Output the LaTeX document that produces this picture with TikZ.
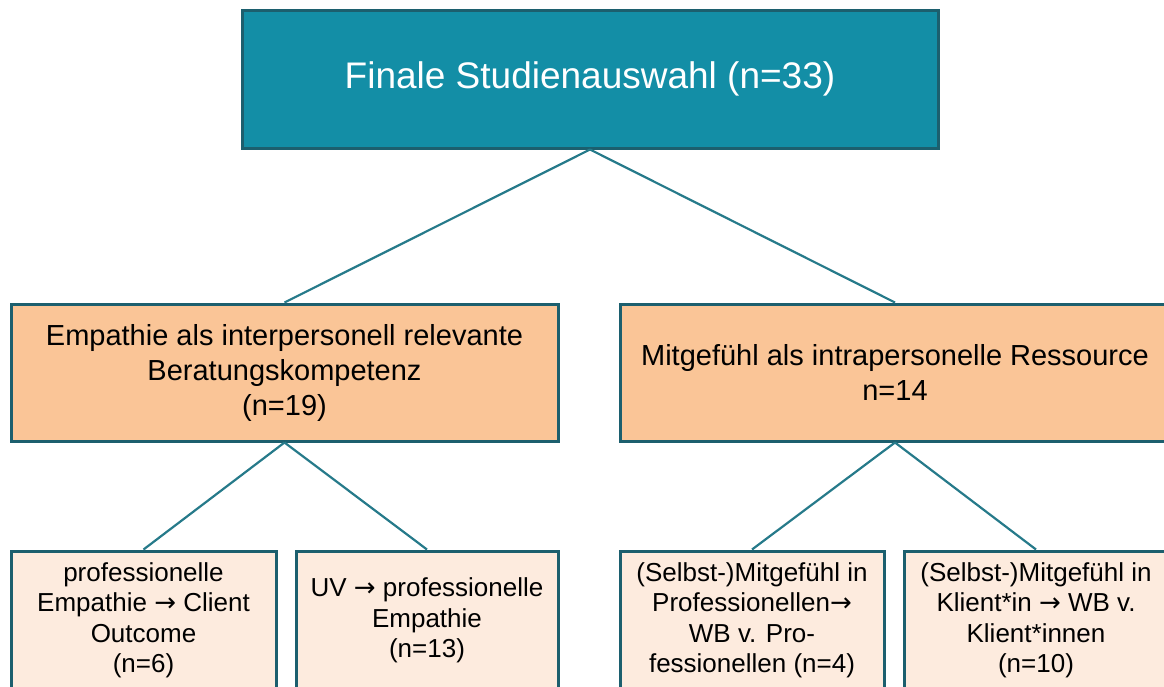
\documentclass[tikz,border=0pt]{standalone}
\usepackage{fontspec}
\setmainfont{Liberation Sans}
\newfontfamily\arrfont{DejaVu Sans}
\newcommand{\rarr}{{\arrfont →}}
\definecolor{topfill}{RGB}{19,142,166}
\definecolor{midfill}{RGB}{250,197,151}
\definecolor{lowfill}{RGB}{253,235,222}
\definecolor{edge}{RGB}{28,95,110}
\definecolor{link}{RGB}{38,122,138}
\tikzset{
  box/.style={draw=edge, line width=3pt, rectangle, align=center, inner sep=0pt},
  topbox/.style={box, fill=topfill, text=white, font=\fontsize{37}{42}\selectfont},
  midbox/.style={box, fill=midfill, text=black, font=\fontsize{29}{35}\selectfont},
  lowbox/.style={box, fill=lowfill, text=black, font=\fontsize{26}{30.5}\selectfont},
  conn/.style={draw=link, line width=2.2pt}
}
\begin{document}
\begin{tikzpicture}[x=1pt,y=1pt]
\useasboundingbox (0,0) rectangle (1164,-686);
\clip (0,0) rectangle (1164,-686);
\node[topbox, minimum width=696, minimum height=138] (top) at (590,-79) {Finale Studienauswahl (n=33)};
\node[midbox, minimum width=547, minimum height=137] (ml) at (284.5,-372.5) {Empathie als interpersonell relevante\\Beratungskompetenz\\(n=19)};
\node[midbox, minimum width=550, minimum height=137] (mr) at (895,-372.5) {Mitgefühl als intrapersonelle Ressource\\n=14};
\node[lowbox, minimum width=265, minimum height=139] (b1) at (143.5,-620.5) {professionelle\\Empathie \rarr{} Client\\Outcome\\(n=6)};
\node[lowbox, minimum width=262, minimum height=139] (b2) at (427,-620.5) {UV \rarr{} professionelle\\Empathie\\(n=13)};
\node[lowbox, minimum width=264, minimum height=139] (b3) at (752,-620.5) {(Selbst-)Mitgefühl in\\Professionellen\rarr\\WB v. Pro-\\fessionellen (n=4)};
\node[lowbox, minimum width=263, minimum height=139] (b4) at (1036,-620.5) {(Selbst-)Mitgefühl in\\Klient*in \rarr{} WB v.\\Klient*innen\\(n=10)};
\draw[conn] (top.south) -- (ml.north);
\draw[conn] (top.south) -- (mr.north);
\draw[conn] (ml.south) -- (b1.north);
\draw[conn] (ml.south) -- (b2.north);
\draw[conn] (mr.south) -- (b3.north);
\draw[conn] (mr.south) -- (b4.north);
\end{tikzpicture}
\end{document}
